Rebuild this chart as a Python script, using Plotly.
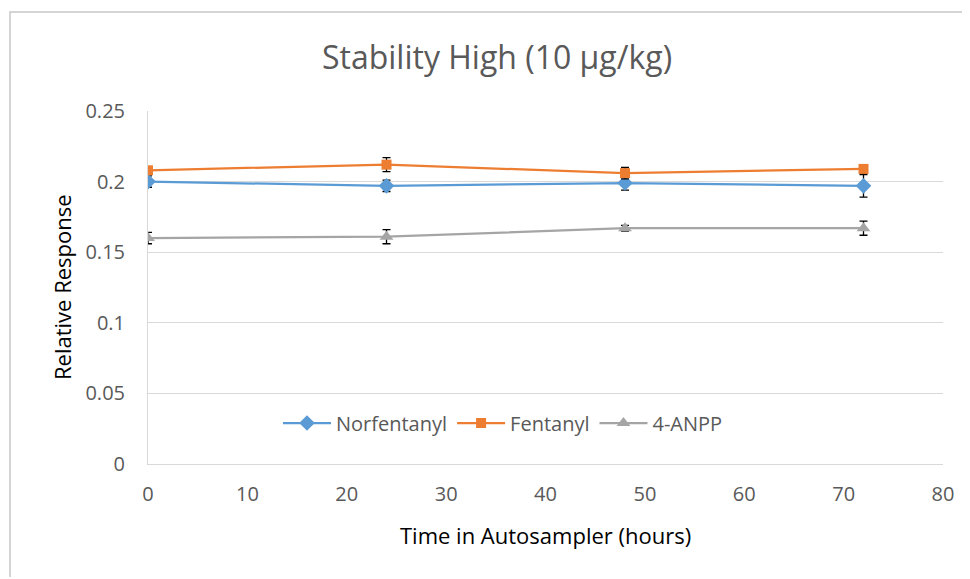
import plotly.graph_objects as go

hours = [0, 24, 48, 72]
norfentanyl = [0.200, 0.197, 0.199, 0.197]
norfentanyl_err = [0.004, 0.004, 0.005, 0.008]
fentanyl = [0.208, 0.212, 0.206, 0.209]
fentanyl_err = [0.001, 0.005, 0.004, 0.003]
anpp = [0.160, 0.161, 0.167, 0.167]
anpp_err = [0.004, 0.005, 0.002, 0.005]

x_ticks = [0, 10, 20, 30, 40, 50, 60, 70, 80]
y_ticks = [0, 0.05, 0.1, 0.15, 0.2, 0.25]
y_tick_text = ["0", "0.05", "0.1", "0.15", "0.2", "0.25"]

FONT = "Open Sans"
TXT = "#595959"

fig = go.Figure()

series = [
    ("Norfentanyl", norfentanyl, norfentanyl_err, "#5B9BD5", "diamond", 12),
    ("Fentanyl", fentanyl, fentanyl_err, "#ED7D31", "square", 10),
    ("4-ANPP", anpp, anpp_err, "#A5A5A5", "triangle-up", 12),
]
for name, ys, err, color, sym, size in series:
    fig.add_trace(go.Scatter(
        x=hours, y=ys, name=name, mode="lines+markers",
        line=dict(color=color, width=2.25),
        marker=dict(symbol=sym, size=size, color=color),
        error_y=dict(type="data", array=err, visible=True, color="black", thickness=1.3, width=4),
    ))

# page has an 8px body margin: work in page pixels, convert to figure pixels
OFF = 8
W, H = 970 - OFF - 2, 579 - OFF - 2
L, R, T, B = 148, 943, 111, 464
pw, ph = R - L, B - T

def px(xp):
    return (xp - L) / pw

def py(yp):
    return (B - yp) / ph

fig.update_layout(
    width=W, height=H,
    margin=dict(l=L - OFF, r=W - (R - OFF), t=T - OFF, b=H - (B - OFF)),
    paper_bgcolor="white", plot_bgcolor="white",
    font=dict(family=FONT, color=TXT, size=20),
    title=dict(text="Stability High (10 µg/kg)", x=px(497), xref="paper", xanchor="center",
               y=1 - (58 - OFF) / H, yref="container", yanchor="middle",
               font=dict(family=FONT, size=32, color=TXT)),
    xaxis=dict(range=[0, 80], tickvals=x_ticks, showgrid=False, zeroline=False,
               showline=True, linecolor="#D9D9D9", linewidth=1, ticks="",
               ticklabelstandoff=12,
               tickfont=dict(size=20, color=TXT)),
    yaxis=dict(range=[0, 0.25], tickvals=y_ticks, ticktext=y_tick_text,
               showgrid=True, gridcolor="#D9D9D9", gridwidth=1, zeroline=False,
               showline=True, linecolor="#D9D9D9", linewidth=1, ticks="",
               ticklabelstandoff=18,
               tickfont=dict(size=20, color=TXT)),
    legend=dict(orientation="h", x=px(503), xanchor="center", y=py(423), yanchor="middle",
                bgcolor="rgba(0,0,0,0)", font=dict(size=20, color=TXT), itemwidth=48),
    showlegend=True,
    annotations=[
        dict(text="Relative Response", x=px(62), y=py(287), xref="paper", yref="paper",
             textangle=-90, showarrow=False, font=dict(size=22, color="black"),
             xanchor="center", yanchor="middle"),
        dict(text="Time in Autosampler (hours)", x=px(545), y=py(535), xref="paper", yref="paper",
             showarrow=False, font=dict(size=22, color="black"),
             xanchor="center", yanchor="middle"),
    ],
    shapes=[
        dict(type="rect", xref="paper", yref="paper",
             x0=px(10), x1=px(990), y0=py(600), y1=py(12),
             line=dict(color="#C8C8C8", width=1.5), fillcolor="rgba(0,0,0,0)", layer="below"),
    ],
)

fig.write_html("out.html")
